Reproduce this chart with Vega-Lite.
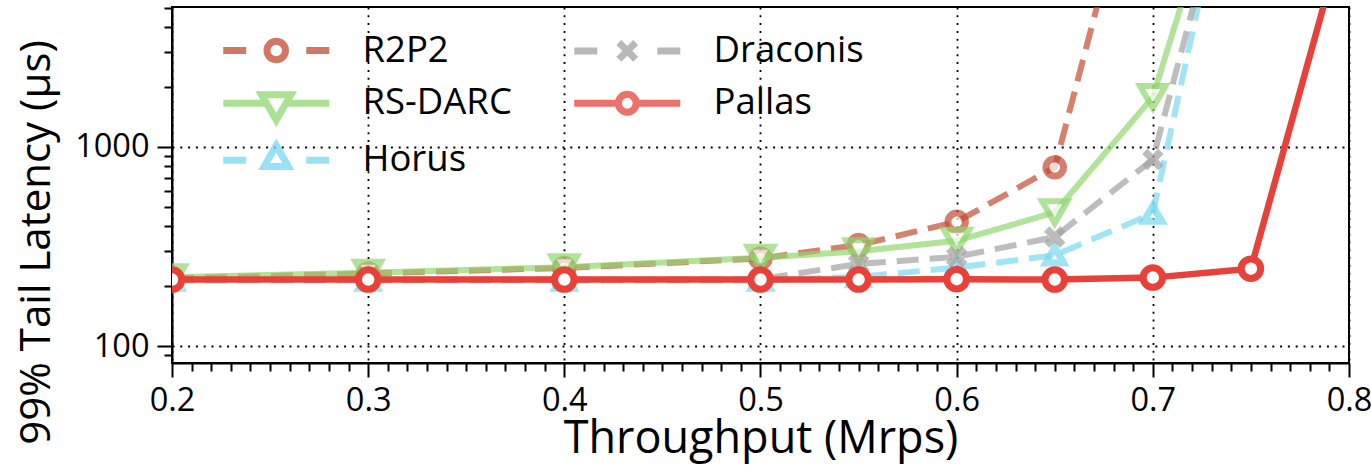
{
  "$schema": "https://vega.github.io/schema/vega-lite/v6.json",
  "width": 1177,
  "height": 356,
  "autosize": "none",
  "padding": {"left": 172, "top": 7, "right": 22, "bottom": 102},
  "background": "white",
  "config": {
    "font": "Open Sans",
    "view": {"stroke": "black", "strokeWidth": 2},
    "axis": {"labelColor": "black", "titleColor": "black", "tickColor": "black", "domainColor": "black", "labelFont": "Open Sans", "titleFont": "Open Sans", "titleFontWeight": "normal"}
  },
  "data": {
    "values": [
      {"s": "R2P2", "x": 0.2, "y": 219}, {"s": "R2P2", "x": 0.3, "y": 232}, {"s": "R2P2", "x": 0.4, "y": 247},
      {"s": "R2P2", "x": 0.5, "y": 276}, {"s": "R2P2", "x": 0.55, "y": 322}, {"s": "R2P2", "x": 0.6, "y": 421},
      {"s": "R2P2", "x": 0.65, "y": 790}, {"s": "R2P2", "x": 0.7, "y": 59000},
      {"s": "RS-DARC", "x": 0.2, "y": 222}, {"s": "RS-DARC", "x": 0.3, "y": 234}, {"s": "RS-DARC", "x": 0.4, "y": 249},
      {"s": "RS-DARC", "x": 0.5, "y": 278}, {"s": "RS-DARC", "x": 0.55, "y": 300}, {"s": "RS-DARC", "x": 0.6, "y": 338},
      {"s": "RS-DARC", "x": 0.65, "y": 470}, {"s": "RS-DARC", "x": 0.7, "y": 1780}, {"s": "RS-DARC", "x": 0.75, "y": 70000},
      {"s": "Horus", "x": 0.2, "y": 214}, {"s": "Horus", "x": 0.3, "y": 214}, {"s": "Horus", "x": 0.4, "y": 214},
      {"s": "Horus", "x": 0.5, "y": 214}, {"s": "Horus", "x": 0.55, "y": 223}, {"s": "Horus", "x": 0.6, "y": 248},
      {"s": "Horus", "x": 0.65, "y": 286}, {"s": "Horus", "x": 0.7, "y": 464}, {"s": "Horus", "x": 0.75, "y": 83000},
      {"s": "Draconis", "x": 0.2, "y": 216}, {"s": "Draconis", "x": 0.3, "y": 216}, {"s": "Draconis", "x": 0.4, "y": 216},
      {"s": "Draconis", "x": 0.5, "y": 217}, {"s": "Draconis", "x": 0.55, "y": 259}, {"s": "Draconis", "x": 0.6, "y": 281},
      {"s": "Draconis", "x": 0.65, "y": 353}, {"s": "Draconis", "x": 0.7, "y": 865}, {"s": "Draconis", "x": 0.75, "y": 63000},
      {"s": "Pallas", "x": 0.2, "y": 216}, {"s": "Pallas", "x": 0.3, "y": 216}, {"s": "Pallas", "x": 0.4, "y": 216},
      {"s": "Pallas", "x": 0.5, "y": 216}, {"s": "Pallas", "x": 0.55, "y": 216}, {"s": "Pallas", "x": 0.6, "y": 217},
      {"s": "Pallas", "x": 0.65, "y": 216}, {"s": "Pallas", "x": 0.7, "y": 221}, {"s": "Pallas", "x": 0.75, "y": 245},
      {"s": "Pallas", "x": 0.8, "y": 14700}
    ]
  },
  "resolve": {"axis": {"x": "independent", "y": "independent"}},
  "layer": [
    {
      "mark": {"type": "point", "opacity": 0, "clip": true},
      "encoding": {
        "x": {"field": "x", "type": "quantitative", "scale": {"domain": [0.2, 0.8], "nice": false, "zero": false},
          "axis": {"orient": "bottom", "values": [0.21,0.22,0.23,0.24,0.25,0.26,0.27,0.28,0.29,0.31,0.32,0.33,0.34,0.35,0.36,0.37,0.38,0.39,0.41,0.42,0.43,0.44,0.45,0.46,0.47,0.48,0.49,0.51,0.52,0.53,0.54,0.55,0.56,0.57,0.58,0.59,0.61,0.62,0.63,0.64,0.65,0.66,0.67,0.68,0.69,0.71,0.72,0.73,0.74,0.75,0.76,0.77,0.78,0.79],
            "labels": false, "tickSize": 8, "tickWidth": 2, "domain": false, "grid": false, "title": null}},
        "y": {"field": "y", "type": "quantitative", "scale": {"type": "log", "domain": [82.4, 5040], "nice": false},
          "axis": {"orient": "left", "values": [90, 200, 300, 400, 500, 600, 700, 800, 900, 2000, 3000, 4000, 5000],
            "labels": false, "tickSize": 8, "tickWidth": 2, "domain": false, "grid": false, "title": null}}
      }
    },
    {
      "encoding": {
        "x": {"field": "x", "type": "quantitative", "scale": {"domain": [0.2, 0.8], "nice": false, "zero": false},
          "axis": {"orient": "bottom", "values": [0.2, 0.3, 0.4, 0.5, 0.6, 0.7, 0.8], "format": ".1f", "tickSize": 14, "tickWidth": 2,
            "domainWidth": 2, "grid": true, "gridColor": "black", "gridDash": [2, 5.8], "gridWidth": 1.8, "gridOpacity": 1,
            "labelFontSize": 32.5, "labelPadding": 7, "labelFlush": false,
            "title": "Throughput (Mrps)", "titleFontSize": 45, "titlePadding": 0}},
        "y": {"field": "y", "type": "quantitative", "scale": {"type": "log", "domain": [82.4, 5040], "nice": false},
          "axis": {"orient": "left", "values": [100, 1000], "format": "d", "tickSize": 15, "tickWidth": 2,
            "domainWidth": 2, "grid": true, "gridColor": "black", "gridDash": [2, 5.8], "gridWidth": 1.8, "gridOpacity": 1,
            "labelFontSize": 32.5, "labelPadding": 8, "labelFlush": false,
            "title": "99% Tail Latency (μs)", "titleFontSize": 42, "titleX": -136, "titleY": 235, "titleAngle": -90,
            "titleAlign": "center", "titleBaseline": "middle"}},
        "color": {"field": "s", "type": "nominal",
          "scale": {"domain": ["R2P2", "RS-DARC", "Horus", "Draconis", "Pallas"], "range": ["#c44a31", "#91d76f", "#77d8f1", "#a1a1a1", "#e8413a"]},
          "legend": {
            "orient": "none", "legendX": 86, "legendY": 21, "columns": 2, "title": null, "gridAlign": "all",
            "labelFontSize": 36.5, "labelFont": "Open Sans", "labelColor": "black", "labelOffset": 68,
            "columnPadding": 47, "rowPadding": -4, "padding": 0, "symbolSize": 441, "symbolStrokeWidth": 7,
            "symbolFillColor": "white", "symbolOpacity": 0.75, "symbolDash": []
          }}
      },
      "layer": [
        {"mark": {"type": "point", "opacity": 0, "clip": true},
         "encoding": {"shape": {"field": "s", "type": "nominal",
           "scale": {"domain": ["R2P2", "RS-DARC", "Horus", "Draconis", "Pallas"],
             "range": [
               "M-5.05,0H-2.86M2.86,0H5.05M0.88,0A0.88,0.88,0,1,1,-0.88,0A0.88,0.88,0,1,1,0.88,0Z",
               "M-5.05,0H-0.9M0.9,0H5.05M-1.4,-0.8L1.4,-0.8L0,1.6Z",
               "M-5.05,0H-2.86M2.86,0H5.05M0,-1.4L1.15,0.6L-1.15,0.6Z",
               "M-5.05,0H-2.86M2.86,0H5.05M-0.8,-0.8L0.8,0.8M-0.8,0.8L0.8,-0.8",
               "M-5.05,0H-0.85M0.85,0H5.05M0.85,0A0.85,0.85,0,1,1,-0.85,0A0.85,0.85,0,1,1,0.85,0Z"
             ]},
           "legend": {
            "orient": "none", "legendX": 86, "legendY": 21, "columns": 2, "title": null, "gridAlign": "all",
            "labelFontSize": 36.5, "labelFont": "Open Sans", "labelColor": "black", "labelOffset": 68,
            "columnPadding": 47, "rowPadding": -4, "padding": 0, "symbolSize": 441, "symbolStrokeWidth": 7,
            "symbolFillColor": "white", "symbolOpacity": 0.75, "symbolDash": []
           }}}},
        {"transform": [{"filter": "datum.s === 'R2P2'"}], "mark": {"type": "line", "strokeWidth": 6, "strokeDash": [22, 11], "opacity": 0.7, "clip": true}},
        {"transform": [{"filter": "datum.s === 'R2P2'"}], "mark": {"type": "point", "shape": "circle", "size": 306, "filled": false, "fill": "white", "strokeWidth": 7, "opacity": 0.7, "clip": true}},
        {"transform": [{"filter": "datum.s === 'RS-DARC'"}], "mark": {"type": "line", "strokeWidth": 6, "opacity": 0.7, "clip": true}},
        {"transform": [{"filter": "datum.s === 'RS-DARC'"}], "mark": {"type": "point", "shape": "triangle-down", "size": 650, "filled": false, "fill": "white", "strokeWidth": 6, "opacity": 0.7, "clip": true}},
        {"transform": [{"filter": "datum.s === 'Horus'"}], "mark": {"type": "line", "strokeWidth": 6, "strokeDash": [22, 11], "opacity": 0.7, "clip": true}},
        {"transform": [{"filter": "datum.s === 'Horus'"}], "mark": {"type": "point", "shape": "triangle-up", "size": 324, "filled": false, "fill": "white", "strokeWidth": 7, "opacity": 0.7, "clip": true}},
        {"transform": [{"filter": "datum.s === 'Draconis'"}], "mark": {"type": "line", "strokeWidth": 6, "strokeDash": [22, 11], "opacity": 0.7, "clip": true}},
        {"transform": [{"filter": "datum.s === 'Draconis'"}], "mark": {"type": "point", "shape": "M-0.85,-0.85L0.85,0.85M-0.85,0.85L0.85,-0.85", "size": 360, "filled": false, "strokeWidth": 7.5, "opacity": 0.7, "clip": true}},
        {"transform": [{"filter": "datum.s === 'Pallas'"}], "mark": {"type": "line", "strokeWidth": 6.5, "opacity": 1, "clip": true}},
        {"transform": [{"filter": "datum.s === 'Pallas'"}], "mark": {"type": "point", "shape": "circle", "size": 380, "filled": false, "fill": "white", "strokeWidth": 7, "opacity": 1, "clip": true}}
      ]
    }
  ]
}
